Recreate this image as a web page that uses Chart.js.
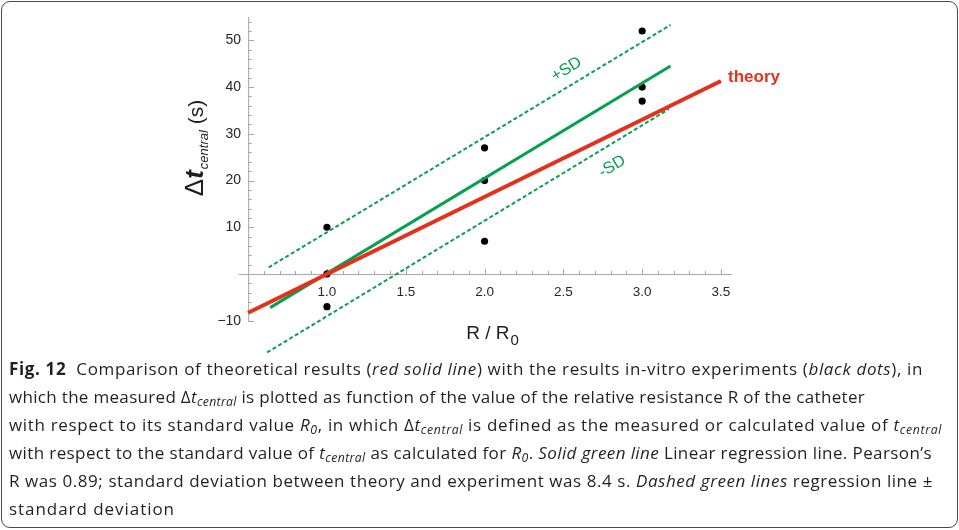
<!DOCTYPE html>
<html>
<head>
<meta charset="utf-8">
<script src="https://cdn.jsdelivr.net/npm/chart.js@4/dist/chart.umd.min.js"></script>
<style>
  html, body { margin: 0; padding: 0; background: #fff; }
  #frame { position: absolute; left: 1px; top: 1px; width: 955px; height: 525px; border: 1px solid #4a4a4a; border-radius: 9px; }
  #plot { position: absolute; left: 0; top: 0; }
  #caption { position: absolute; left: 9px; top: 355px; width: 945px; font-family: "Open Sans", sans-serif; font-size: 17px; line-height: 28px; color: #231f20; white-space: nowrap; }
  #caption sub { font-size: 0.72em; line-height: 0; vertical-align: -0.25em; }
</style>
</head>
<body>
<div id="frame"></div>
<canvas id="plot" width="959" height="360"></canvas>
<div id="caption">
  <span class="ln" data-w="914"><b>Fig. 12</b>&nbsp; Comparison of theoretical results (<i>red solid line</i>) with the results in-vitro experiments (<i>black dots</i>), in</span><br>
  <span class="ln" data-w="856">which the measured Δ<i>t<sub>central</sub></i> is plotted as function of the value of the relative resistance R of the catheter</span><br>
  <span class="ln" data-w="933">with respect to its standard value <i>R<sub>0</sub></i>, in which Δ<i>t<sub>central</sub></i> is defined as the measured or calculated value of <i>t<sub>central</sub></i></span><br>
  <span class="ln" data-w="923">with respect to the standard value of <i>t<sub>central</sub></i> as calculated for <i>R<sub>0</sub></i>. <i>Solid green line</i> Linear regression line. Pearson’s</span><br>
  <span class="ln" data-w="924">R was 0.89; standard deviation between theory and experiment was 8.4 s. <i>Dashed green lines</i> regression line ±</span><br>
  <span class="ln" data-w="166">standard deviation</span>
</div>
<script>
// measured points (black dots)
const pointsX = [1, 1, 1, 2, 2, 2, 3, 3, 3];
const pointsY = [10, 0, -7, 27, 20, 7, 52, 40, 37];

// theory line (red)
const theoryX = [0.5, 3.5];
const theoryY = [-8.3, 41.3];

// linear regression (solid green) and +/- SD (dashed green)
const regressionX = [0.64, 3.18];
const regressionY = [-7.2, 44.5];
const plusSdX = [0.63, 3.18];
const plusSdY = [1.4, 53.3];
const minusSdX = [0.62, 3.17];
const minusSdY = [-16.8, 35.3];

const xTicks = [1.0, 1.5, 2.0, 2.5, 3.0, 3.5];
const yTicks = [-10, 10, 20, 30, 40, 50];

const RED = "#e2311d";
const GREEN = "#07a04f";

function toPoints(xs, ys) {
  return xs.map((x, i) => ({ x: x, y: ys[i] }));
}

// stretch each caption line to the width it has in the figure
document.querySelectorAll("#caption .ln").forEach(span => {
  const target = parseFloat(span.dataset.w);
  const w = span.getBoundingClientRect().width;
  const n = span.textContent.length;
  span.style.letterSpacing = ((target - w) / n) + "px";
});

// axes drawn Mathematica style: y axis at x = 0.5, x axis at y = 0, ticks pointing inward
const axesPlugin = {
  id: "axes",
  beforeDatasetsDraw(chart) {
    const { ctx, chartArea } = chart;
    const xs = chart.scales.x;
    const ys = chart.scales.y;
    const x0 = xs.getPixelForValue(0.5);
    const y0 = ys.getPixelForValue(0);
    ctx.save();
    ctx.strokeStyle = "#a6a6a6";
    ctx.lineWidth = 1;
    ctx.beginPath();
    ctx.moveTo(chartArea.left, y0 + 0.5);
    ctx.lineTo(chartArea.right, y0 + 0.5);
    ctx.moveTo(x0 + 0.5, ys.getPixelForValue(-10.2));
    ctx.lineTo(x0 + 0.5, chartArea.top);
    // x minor/major ticks
    for (let i = 6; i <= 35; i++) {
      const px = Math.round(xs.getPixelForValue(i / 10)) + 0.5;
      const len = i % 5 === 0 ? 5 : 3;
      ctx.moveTo(px, y0);
      ctx.lineTo(px, y0 - len);
    }
    // y minor/major ticks
    for (let v = -10; v <= 54; v += 2) {
      if (v === 0) continue;
      const py = Math.round(ys.getPixelForValue(v)) + 0.5;
      const len = v % 10 === 0 ? 6 : 3.5;
      ctx.moveTo(x0, py);
      ctx.lineTo(x0 + len, py);
    }
    ctx.stroke();

    ctx.fillStyle = "#262626";
    ctx.font = "13.5px 'Liberation Sans', Arial, sans-serif";
    ctx.textAlign = "center";
    ctx.textBaseline = "middle";
    xTicks.forEach(v => ctx.fillText(v.toFixed(1), xs.getPixelForValue(v), y0 + 18));
    ctx.font = "14px 'Liberation Sans', Arial, sans-serif";
    ctx.textAlign = "right";
    yTicks.forEach(v => ctx.fillText(v < 0 ? "\u2212" + Math.abs(v) : String(v), x0 - 7, ys.getPixelForValue(v)));

    // x title: R / R0
    ctx.fillStyle = "#1e1e1e";
    ctx.textAlign = "left";
    ctx.textBaseline = "alphabetic";
    ctx.font = "19px 'Liberation Sans', Arial, sans-serif";
    const main = "R / R";
    const mw = ctx.measureText(main).width;
    ctx.font = "15px 'Liberation Sans', Arial, sans-serif";
    const sw = ctx.measureText("0").width;
    const tx = 492 - (mw + sw) / 2;
    ctx.font = "19px 'Liberation Sans', Arial, sans-serif";
    ctx.fillText(main, tx, 339);
    ctx.font = "15px 'Liberation Sans', Arial, sans-serif";
    ctx.fillText("0", tx + mw + 1, 345);

    // y title: Δt_central (s), rotated
    const parts = [
      { t: "\u0394", f: "26px 'Liberation Sans', Arial, sans-serif", dy: 0 },
      { t: "t", f: "bold italic 26px 'Liberation Sans', Arial, sans-serif", dy: 0 },
      { t: "central", f: "italic 13px 'Liberation Sans', Arial, sans-serif", dy: 5 },
      { t: " (s)", f: "21px 'Liberation Sans', Arial, sans-serif", dy: 0 }
    ];
    let total = 0;
    parts.forEach(p => { ctx.font = p.f; p.w = ctx.measureText(p.t).width; total += p.w + (p.t === "t" ? 1 : 0); });
    ctx.translate(203, 148);
    ctx.rotate(-Math.PI / 2);
    let cx = -total / 2;
    parts.forEach(p => {
      ctx.font = p.f;
      ctx.fillText(p.t, cx, p.dy);
      cx += p.w + (p.t === "t" ? 1 : 0);
    });
    ctx.restore();
  },
  afterDatasetsDraw(chart) {
    const { ctx } = chart;
    const xs = chart.scales.x;
    const ys = chart.scales.y;
    ctx.save();
    // theory label
    ctx.fillStyle = RED;
    ctx.font = "bold 17px 'Liberation Sans', Arial, sans-serif";
    ctx.textAlign = "left";
    ctx.textBaseline = "middle";
    ctx.fillText("theory", xs.getPixelForValue(3.545), ys.getPixelForValue(42.0));
    // SD labels along the dashed lines
    const ang = Math.atan2(
      ys.getPixelForValue(plusSdY[1]) - ys.getPixelForValue(plusSdY[0]),
      xs.getPixelForValue(plusSdX[1]) - xs.getPixelForValue(plusSdX[0])
    );
    ctx.fillStyle = GREEN;
    ctx.font = "16.5px 'Liberation Sans', Arial, sans-serif";
    ctx.textAlign = "center";
    [["+SD", 2.52, 43.8], ["-SD", 2.81, 23.0]].forEach(([txt, vx, vy]) => {
      ctx.save();
      ctx.translate(xs.getPixelForValue(vx), ys.getPixelForValue(vy));
      ctx.rotate(ang);
      ctx.fillText(txt, 0, 0);
      ctx.restore();
    });
    ctx.restore();
  }
};

new Chart(document.getElementById("plot"), {
  type: "scatter",
  data: {
    datasets: [
      { type: "line", data: toPoints(plusSdX, plusSdY), borderColor: GREEN, borderWidth: 2, borderDash: [4, 2.5], pointRadius: 0, fill: false },
      { type: "line", data: toPoints(minusSdX, minusSdY), borderColor: GREEN, borderWidth: 2, borderDash: [4, 2.5], pointRadius: 0, fill: false },
      { type: "line", data: toPoints(theoryX, theoryY), borderColor: RED, borderWidth: 4, pointRadius: 0, fill: false },
      { type: "line", data: toPoints(regressionX, regressionY), borderColor: GREEN, borderWidth: 3, pointRadius: 0, fill: false },
      { data: toPoints(pointsX, pointsY), backgroundColor: "#000", borderWidth: 0, pointRadius: 3.6 }
    ]
  },
  options: {
    responsive: false,
    animation: false,
    devicePixelRatio: 1,
    layout: { padding: { left: 238.7, right: 227, top: 17, bottom: 6.6 } },
    plugins: { legend: { display: false }, tooltip: { enabled: false } },
    scales: {
      x: { type: "linear", min: 0.44, max: 3.57, display: false },
      y: { type: "linear", min: -17, max: 55, display: false }
    }
  },
  plugins: [axesPlugin]
});
</script>
</body>
</html>
